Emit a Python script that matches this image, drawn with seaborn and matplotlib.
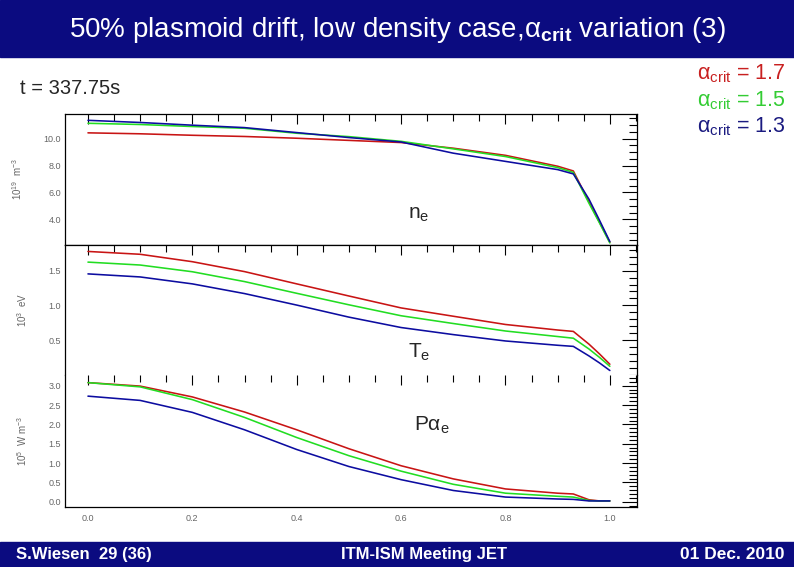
import numpy as np
import pandas as pd
import matplotlib
matplotlib.use("Agg")
import matplotlib.pyplot as plt
from matplotlib.patches import Rectangle
from matplotlib.ticker import MultipleLocator, FixedLocator, FormatStrFormatter
import seaborn as sns

sns.set_theme(style="white")
plt.rcParams['font.family'] = ['Liberation Sans', 'DejaVu Sans']
plt.rcParams['mathtext.fontset'] = 'custom'
plt.rcParams['mathtext.rm'] = 'Liberation Sans'
plt.rcParams['mathtext.it'] = 'Liberation Sans:italic'
plt.rcParams['mathtext.bf'] = 'Liberation Sans:bold'

# normalised radius
rho = [0.0, 0.1, 0.2, 0.3, 0.4, 0.5, 0.6, 0.7, 0.8, 0.9, 0.93, 0.96, 0.98, 1.0]

# electron density, 10^19 m^-3
ne_17 = [10.43, 10.36, 10.25, 10.16, 10.03, 9.87, 9.71, 9.29, 8.76, 7.95, 7.60, 5.30, 3.80, 2.30]
ne_15 = [11.14, 11.05, 10.90, 10.77, 10.40, 10.15, 9.80, 9.24, 8.67, 7.85, 7.49, 5.20, 3.75, 2.25]
ne_13 = [11.36, 11.20, 11.00, 10.82, 10.45, 10.08, 9.75, 8.92, 8.31, 7.70, 7.38, 5.50, 3.95, 2.35]

# electron temperature, 10^3 eV
te_17 = [1.778, 1.737, 1.63, 1.487, 1.31, 1.135, 0.963, 0.843, 0.724, 0.644, 0.624, 0.44, 0.30, 0.15]
te_15 = [1.624, 1.582, 1.485, 1.343, 1.174, 1.008, 0.85, 0.738, 0.63, 0.55, 0.526, 0.37, 0.25, 0.12]
te_13 = [1.454, 1.41, 1.31, 1.17, 1.004, 0.83, 0.68, 0.578, 0.486, 0.424, 0.408, 0.27, 0.17, 0.06]

# alpha heating to electrons, 10^5 W m^-3
pa_17 = [3.08, 2.99, 2.71, 2.32, 1.86, 1.37, 0.93, 0.59, 0.33, 0.22, 0.20, 0.05, 0.02, 0.02]
pa_15 = [3.08, 2.97, 2.64, 2.18, 1.66, 1.19, 0.79, 0.45, 0.22, 0.14, 0.12, 0.03, 0.02, 0.02]
pa_13 = [2.73, 2.62, 2.31, 1.86, 1.35, 0.91, 0.57, 0.29, 0.12, 0.07, 0.06, 0.02, 0.02, 0.02]

labels = ["1.7", "1.5", "1.3"]
line_colors = ["#c81414", "#22dd22", "#0c0ca0"]
text_colors = ["#c82020", "#33cc33", "#1a1a80"]
navy = "#0b0b80"
narrow = ['Liberation Sans Narrow', 'Liberation Sans']

fig = plt.figure(figsize=(7.94, 5.67), dpi=100)
W, H = 794, 567

def box(x0, y0, x1, y1):
    return [x0 / W, 1 - y1 / H, (x1 - x0) / W, (y1 - y0) / H]

# banners
fig.patches.append(Rectangle((0, 1 - 57 / H), 1, 57 / H, transform=fig.transFigure,
                             color=navy, zorder=0))
fig.patches.append(Rectangle((0, 0), 1, 25 / H, transform=fig.transFigure,
                             color=navy, zorder=0))
fig.text(0.5, 1 - 30 / H, "50% plasmoid drift, low density case,α$_{\\mathbf{crit}}$ variation (3)",
         color="white", fontsize=20, ha="center", va="center", family=narrow)
fig.text(16 / W, 12.5 / H, "S.Wiesen  29 (36)", color="white", fontsize=12,
         fontweight="bold", ha="left", va="center", family=narrow)
fig.text(424 / W, 12.5 / H, "ITM-ISM Meeting JET", color="white", fontsize=12,
         fontweight="bold", ha="center", va="center", family=narrow)
fig.text(785 / W, 12.5 / H, "01 Dec. 2010", color="white", fontsize=12.5,
         fontweight="bold", ha="right", va="center", family=narrow)

fig.text(20 / W, 1 - 89 / H, "t = 337.75s", fontsize=14.5, ha="left", va="center")
for i, (lab, c) in enumerate(zip(labels, text_colors)):
    fig.text(786 / W, 1 - (74 + 26.5 * i) / H, "α$_{\\mathrm{crit}}$ = " + lab,
             color=c, fontsize=15.5, ha="right", va="center")

panels = [
    (box(65, 114, 637, 245), [ne_17, ne_15, ne_13], (2.10, 11.83), [4, 6, 8, 10], 0.5,
     r"10$^{19}$  m$^{-3}$", "n$_{\\mathrm{e}}$", (408, 215)),
    (box(65, 245, 637, 375), [te_17, te_15, te_13], (-0.005, 1.871), [0.5, 1.0, 1.5], 0.1,
     r"10$^{3}$  eV", "T$_{\\mathrm{e}}$", (408, 352)),
    (box(65, 375, 637, 507), [pa_17, pa_15, pa_13], (-0.137, 3.277),
     [0.0, 0.5, 1.0, 1.5, 2.0, 2.5, 3.0], 0.1,
     r"10$^{5}$  W m$^{-3}$", "Pα$_{\\mathrm{e}}$", (414, 425)),
]

axes = []
for k, (pos, series, ylim, yticks, minor, ylab, name, npos) in enumerate(panels):
    ax = fig.add_axes(pos)
    for vals, c in zip(series, line_colors):
        sns.lineplot(x=rho, y=vals, color=c, lw=1.15, ax=ax)
    ax.set_xlim(-0.044, 1.052)
    ax.set_ylim(*ylim)
    ax.xaxis.set_major_locator(MultipleLocator(0.2))
    ax.xaxis.set_minor_locator(MultipleLocator(0.05))
    ax.yaxis.set_major_locator(FixedLocator(yticks))
    ax.yaxis.set_minor_locator(MultipleLocator(minor))
    ax.yaxis.set_major_formatter(FormatStrFormatter("%.1f"))
    ax.xaxis.set_major_formatter(FormatStrFormatter("%.1f"))
    ax.tick_params(which="both", direction="in", top=True, right=True,
                   color="black", width=0.8, labelsize=6.5, labelcolor="#666666")
    ax.tick_params(axis="y", which="major", length=11, pad=3)
    ax.tick_params(axis="y", which="minor", length=6)
    ax.tick_params(axis="x", which="major", length=7)
    ax.tick_params(axis="x", which="minor", length=5)
    for s in ax.spines.values():
        s.set_color("black")
        s.set_linewidth(0.9)
    if k < 2:
        ax.tick_params(axis="x", labelbottom=False)
    else:
        ax.tick_params(axis="x", pad=5)
    ax.set_xlabel("")
    ax.set_ylabel(ylab, fontsize=7, color="#666666", labelpad=14)
    fig.text(npos[0] / W, 1 - npos[1] / H, name, fontsize=15, ha="left", va="center")
    axes.append(ax)

axes[1].spines["bottom"].set_visible(False)
axes[2].spines["top"].set_visible(False)

fig.savefig("out.png", dpi=100)
